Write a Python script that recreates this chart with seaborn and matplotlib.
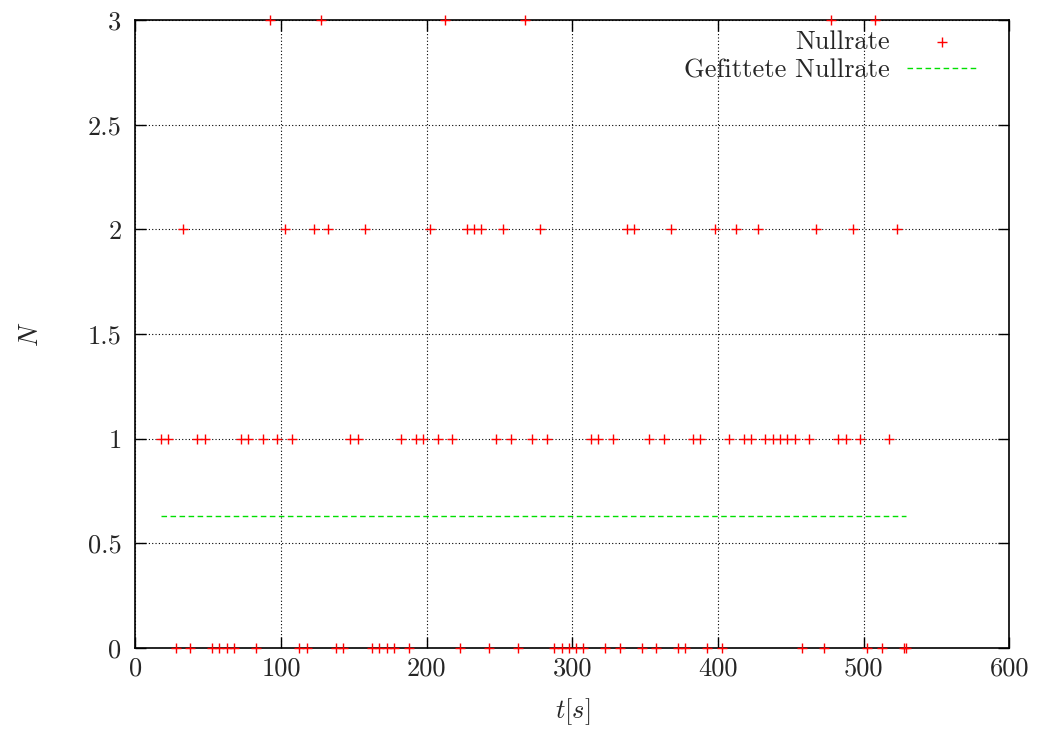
import numpy as np
import pandas as pd
import matplotlib
matplotlib.use("Agg")
import matplotlib.pyplot as plt
import seaborn as sns

# Measurement times (s) and counts N in each interval
t_values = [
    17.5, 22.5, 27.5, 32.5, 37.5, 42.5, 47.5, 52.5, 57.5, 62.5,
    67.5, 72.5, 77.5, 82.5, 87.5, 92.5, 97.5, 102.5, 107.5, 112.5,
    117.5, 122.5, 127.5, 132.5, 137.5, 142.5, 147.5, 152.5, 157.5, 162.5,
    167.5, 172.5, 177.5, 182.5, 187.5, 192.5, 197.5, 202.5, 207.5, 212.5,
    217.5, 222.5, 227.5, 232.5, 237.5, 242.5, 247.5, 252.5, 257.5, 262.5,
    267.5, 272.5, 277.5, 282.5, 287.5, 292.5, 297.5, 302.5, 307.5, 312.5,
    317.5, 322.5, 327.5, 332.5, 337.5, 342.5, 347.5, 352.5, 357.5, 362.5,
    367.5, 372.5, 377.5, 382.5, 387.5, 392.5, 397.5, 402.5, 407.5, 412.5,
    417.5, 422.5, 427.5, 432.5, 437.5, 442.5, 447.5, 452.5, 457.5, 462.5,
    467.5, 472.5, 477.5, 482.5, 487.5, 492.5, 497.5, 502.5, 507.5, 512.5,
    517.5, 522.5, 527.5, 529.0,
]
n_values = [
    1, 1, 0, 2, 0, 1, 1, 0, 0, 0,
    0, 1, 1, 0, 1, 3, 1, 2, 1, 0,
    0, 2, 3, 2, 0, 0, 1, 1, 2, 0,
    0, 0, 0, 1, 0, 1, 1, 2, 1, 3,
    1, 0, 2, 2, 2, 0, 1, 2, 1, 0,
    3, 1, 2, 1, 0, 0, 0, 0, 0, 1,
    1, 0, 1, 0, 2, 2, 0, 1, 0, 1,
    2, 0, 0, 1, 1, 0, 2, 0, 1, 2,
    1, 1, 2, 1, 1, 1, 1, 1, 0, 1,
    2, 0, 3, 1, 1, 2, 1, 0, 3, 0,
    1, 2, 0, 0,
]
fit_rate = 0.63

x_ticks = [0, 100, 200, 300, 400, 500, 600]
y_ticks = [0, 0.5, 1, 1.5, 2, 2.5, 3]
y_tick_labels = ["0", "0.5", "1", "1.5", "2", "2.5", "3"]

df = pd.DataFrame({"t": t_values, "N": n_values})
fit_df = pd.DataFrame({"t": [df["t"].min(), df["t"].max()],
                       "N": [fit_rate, fit_rate]})

sns.set_theme(style="white")
plt.rcParams["font.family"] = ["cmr10", "DejaVu Serif"]
plt.rcParams["mathtext.fontset"] = "cm"
plt.rcParams["axes.formatter.use_mathtext"] = True

fig = plt.figure(figsize=(10.42, 7.36), dpi=100)
ax = fig.add_axes([0.130, 0.1196, 0.8388, 0.8532])

sns.scatterplot(data=df, x="t", y="N", marker="+", color="#ff0000",
                s=55, linewidth=1.0, label="Nullrate", ax=ax,
                clip_on=False, zorder=3)
sns.lineplot(data=fit_df, x="t", y="N", color="#00e000", linewidth=1.0,
             label="Gefittete Nullrate", ax=ax)
ax.lines[-1].set_linestyle((0, (4, 2.5)))

ax.set_xlim(0, 600)
ax.set_ylim(0, 3)
ax.set_xticks(x_ticks)
ax.set_xticklabels([str(v) for v in x_ticks])
ax.set_yticks(y_ticks)
ax.set_yticklabels(y_tick_labels)

ax.grid(True, color="black", linestyle=(0, (1, 2)), linewidth=0.8)
ax.set_axisbelow(True)
for s in ax.spines.values():
    s.set_color("black")
    s.set_linewidth(1.2)

ax.tick_params(axis="both", which="major", direction="in", length=8,
               width=1.0, color="black", labelsize=19,
               top=True, right=True, bottom=True, left=True)
ax.tick_params(axis="x", pad=6)
ax.tick_params(axis="y", pad=10)

ax.set_xlabel(r"$t[s]$", fontsize=19, labelpad=12)
ax.set_ylabel(r"$N$", fontsize=19, labelpad=32)

leg = ax.legend(loc="upper right", bbox_to_anchor=(0.976, 1.0),
                frameon=False, markerfirst=False,
                fontsize=19, handlelength=2.7, handletextpad=0.65,
                labelspacing=0.15, borderaxespad=0.0)

fig.savefig("out.png", dpi=100)
